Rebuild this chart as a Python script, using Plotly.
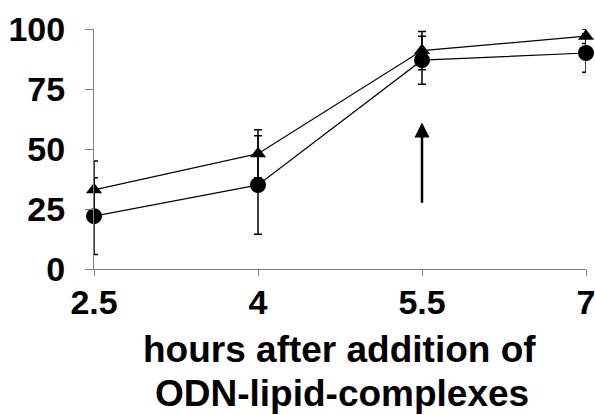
import plotly.graph_objects as go

hours = [2.5, 4, 5.5, 7]
x_ticktext = ["2.5", "4", "5.5", "7"]
y_ticks = [0, 25, 50, 75, 100]

circle_vals = [22, 35, 87, 90]
circle_err = [16, 20.5, 10, 8]
triangle_vals = [33, 48, 91, 97]
triangle_err = [12, 10, 8, 3]

arrow_x = 5.5
arrow_from = 27
arrow_to = 61

title_line1 = "hours after addition of"
title_line2 = "ODN-lipid-complexes"

FONT = "Liberation Sans, Arial, sans-serif"

fig = go.Figure()
fig.add_trace(go.Scatter(
    x=hours, y=circle_vals, mode="lines+markers",
    line=dict(color="black", width=1.2),
    marker=dict(symbol="circle", size=16, color="black"),
    error_y=dict(type="data", array=circle_err, visible=True, color="black", thickness=1.5, width=4),
    cliponaxis=False, showlegend=False))
fig.add_trace(go.Scatter(
    x=hours, y=triangle_vals, mode="lines+markers",
    line=dict(color="black", width=1.2),
    marker=dict(symbol="triangle-up", size=14, color="black"),
    error_y=dict(type="data", array=triangle_err, visible=True, color="black", thickness=1.5, width=4),
    cliponaxis=False, showlegend=False))

fig.add_annotation(x=arrow_x, y=arrow_to, ax=arrow_x, ay=arrow_from,
                   xref="x", yref="y", axref="x", ayref="y", text="",
                   showarrow=True, arrowhead=2, arrowsize=1.2, arrowwidth=2.5,
                   arrowcolor="black", standoff=0)

L, R, T, B = 94, 9, 29, 146
W, H = 595, 415
pw = W - L - R
ph = H - T - B

def px_to_paper_x(px):
    return (px - L) / pw

def px_to_paper_y(py):
    return (H - B - py) / ph

fig.add_annotation(text=title_line1, xref="paper", yref="paper",
                   x=px_to_paper_x(339), y=px_to_paper_y(349), xanchor="center", yanchor="middle",
                   showarrow=False, font=dict(family=FONT, size=37, color="black", weight="bold"))
fig.add_annotation(text=title_line2, xref="paper", yref="paper",
                   x=px_to_paper_x(342), y=px_to_paper_y(393), xanchor="center", yanchor="middle",
                   showarrow=False, font=dict(family=FONT, size=37, color="black", weight="bold"))

fig.update_layout(
    width=W, height=H,
    margin=dict(l=L, r=R, t=T, b=B, pad=0, autoexpand=False),
    plot_bgcolor="white", paper_bgcolor="white",
    font=dict(family=FONT, color="black"),
    xaxis=dict(range=[2.5, 7], tickvals=hours, ticktext=x_ticktext, automargin=False,
               showgrid=False, zeroline=False, showline=True, linecolor="#808080", linewidth=1,
               ticks="outside", ticklen=6, tickcolor="#808080", tickwidth=1,
               ticklabeloverflow="allow", ticklabelstandoff=-3,
               tickfont=dict(family=FONT, size=34, color="black", weight="bold")),
    yaxis=dict(range=[0, 100], tickvals=y_ticks, automargin=False,
               showgrid=False, zeroline=False, showline=True, linecolor="#808080", linewidth=1,
               ticks="outside", ticklen=8, tickcolor="#808080", tickwidth=1,
               ticklabelstandoff=13,
               tickfont=dict(family=FONT, size=34, color="black", weight="bold")),
)

fig.write_html("out.html", config={"displayModeBar": False},
               post_script="document.body.style.margin='0';document.body.style.padding='0';")
